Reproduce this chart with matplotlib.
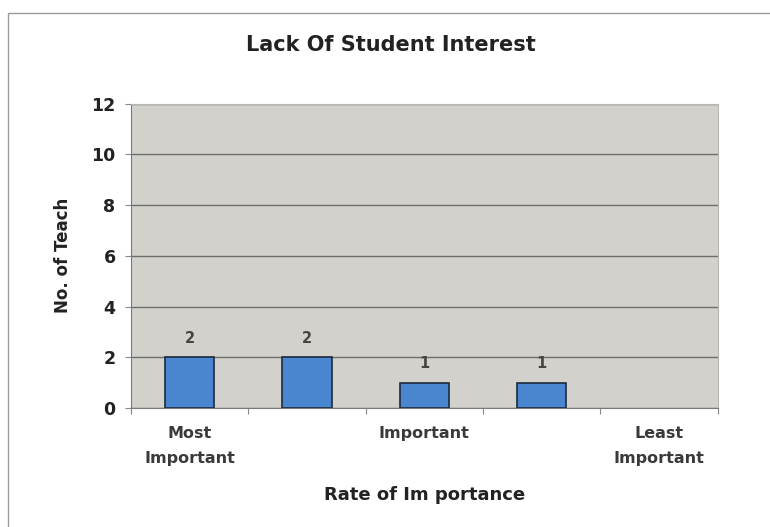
import matplotlib
matplotlib.use('Agg')
import matplotlib.pyplot as plt
from matplotlib.patches import Rectangle

# data
categories = ["Most\nImportant", "", "Important", "", "Least\nImportant"]
counts = [2, 2, 1, 1, 0]
y_ticks = [0, 2, 4, 6, 8, 10, 12]

plt.rcParams['font.family'] = ['DejaVu Sans']

fig = plt.figure(figsize=(7.7, 5.27), dpi=100)
ax = fig.add_axes([0.170, 0.226, 0.762, 0.577])

# outer chart border
fig.patches.append(Rectangle((0.011, -0.02), 1.2, 0.995, transform=fig.transFigure,
                             fill=False, edgecolor='#9a9a9a', linewidth=1.0))

ax.set_facecolor('#d3d1cb')
x = list(range(len(categories)))
lws = [1.2 if v > 0 else 0 for v in counts]
ax.bar(x, counts, width=0.42, color='#4a86d0', edgecolor='#1c2a3c', linewidth=lws, zorder=3)

for xi, v in zip(x, counts):
    if v > 0:
        ax.text(xi, v + 0.45, str(v), ha='center', va='bottom', fontsize=10.5,
                fontweight='bold', color='#444444')

ax.set_xlim(-0.5, len(categories) - 0.5)
ax.set_ylim(0, 12)
ax.set_yticks(y_ticks)
ax.set_xticks([i - 0.5 for i in range(len(categories) + 1)], minor=False)
ax.set_xticklabels([])
ax.set_xticks(x, minor=True)
ax.set_xticklabels(categories, minor=True, fontsize=11.5, fontweight='bold',
                   color='#3a3a3a', linespacing=1.85)
ax.tick_params(axis='x', which='minor', length=0, pad=13)
ax.tick_params(axis='x', which='major', length=4, color='#888888')
ax.tick_params(axis='y', labelsize=12.5, length=4, color='#888888', pad=7,
               labelcolor='#222222')
for lbl in ax.get_yticklabels():
    lbl.set_fontweight('bold')

ax.grid(axis='y', color='#6e6e6e', linewidth=1.0, zorder=1)
for side in ['top', 'right']:
    ax.spines[side].set_color('#b8b8b8')
for side in ['left', 'bottom']:
    ax.spines[side].set_color('#7a7a7a')

fig.text(0.508, 0.915, "Lack Of Student Interest", ha='center', va='center',
         fontsize=15, fontweight='bold', color='#222222')
ax.set_xlabel("Rate of Im portance", fontsize=13, fontweight='bold', labelpad=14,
              color='#222222')
ax.set_ylabel("No. of Teach", fontsize=12, fontweight='bold', labelpad=14,
              color='#222222')

fig.savefig("out.png", dpi=100, facecolor='white')
